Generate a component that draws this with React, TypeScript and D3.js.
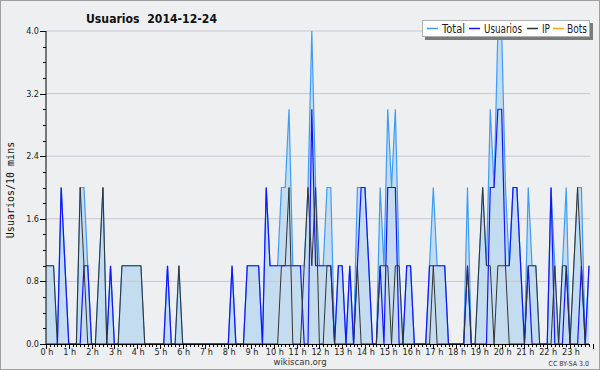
import React from "react";
import * as d3 from "d3";

// 10-minute slots, 6 per hour, 24 hours
const hourLabels = ["0 h","1 h","2 h","3 h","4 h","5 h","6 h","7 h","8 h","9 h","10 h","11 h","12 h","13 h","14 h","15 h","16 h","17 h","18 h","19 h","20 h","21 h","22 h","23 h"];
const yTicks = [0, 0.8, 1.6, 2.4, 3.2, 4.0];

const total = [
  1,1,1,0,2,1, 0,0,0,2,2,1, 0,0,1,2,0,1, 0,0,1,1,1,1, 1,1,0,0,0,0, 0,0,1,0,0,1,
  0,0,0,0,0,0, 0,0,0,0,0,0, 0,1,0,0,0,1, 1,1,1,0,2,1, 1,1,2,2,3,1, 1,1,1,2,4,2,
  1,1,2,2,0,1, 1,0,1,0,2,2, 2,1,0,0,2,1, 3,2,3,1,0,1, 1,0,0,0,0,1, 2,1,1,1,0,0,
  0,0,0,2,0,0, 1,2,1,3,2,4, 4,2,1,2,2,1, 0,2,1,1,0,0, 0,2,1,0,1,2, 0,1,2,2,0,1,
];
const usuarios = [
  0,0,0,0,2,1, 0,0,0,0,1,1, 0,0,0,0,0,1, 0,0,0,0,0,0, 0,0,0,0,0,0, 0,0,1,0,0,0,
  0,0,0,0,0,0, 0,0,0,0,0,0, 0,1,0,0,0,1, 1,1,1,0,2,1, 1,1,1,1,1,1, 1,1,0,0,3,1,
  1,1,1,1,0,1, 1,0,1,0,1,2, 2,1,0,0,1,0, 2,2,2,0,0,1, 1,0,0,0,0,1, 1,1,1,1,0,0,
  0,0,0,1,0,0, 0,0,0,2,2,3, 3,1,1,2,2,1, 0,1,0,0,0,0, 0,2,0,0,0,1, 0,0,0,1,0,1,
];
const ip = [
  1,1,1,0,0,0, 0,0,0,2,1,0, 0,0,1,2,0,0, 0,0,1,1,1,1, 1,1,0,0,0,0, 0,0,0,0,0,1,
  0,0,0,0,0,0, 0,0,0,0,0,0, 0,0,0,0,0,0, 0,0,0,0,0,0, 0,0,1,1,2,0, 0,0,1,2,1,2,
  0,0,1,1,0,0, 0,0,0,0,1,0, 0,0,0,0,1,1, 1,0,1,1,0,0, 0,0,0,0,0,0, 1,0,0,0,0,0,
  0,0,0,1,0,0, 1,2,1,1,0,1, 1,1,0,0,0,0, 0,1,1,1,0,0, 0,0,1,0,1,1, 0,1,2,1,0,0,
];
const bots = [
  0,0,0,0,0,0, 0,0,0,0,0,0, 0,0,0,0,0,0, 0,0,0,0,0,0, 0,0,0,0,0,0, 0,0,0,0,0,0,
  0,0,0,0,0,0, 0,0,0,0,0,0, 0,0,0,0,0,0, 0,0,0,0,0,0, 0,0,0,0,0,0, 0,0,0,0,0,0,
  0,0,0,0,0,0, 0,0,0,0,0,0, 0,0,0,0,0,0, 0,0,0,0,0,0, 0,0,0,0,0,0, 0,0,0,0,0,0,
  0,0,0,0,0,0, 0,0,0,0,0,0, 0,0,0,0,0,0, 0,0,0,0,0,0, 0,0,0,0,0,0, 0,0,0,0,0,0,
];

const W = 600, H = 370;
const L = 46, R = 589, T = 31, B = 344;
const AX_R = 590;

const C_TOTAL = "#3d9cf5";
const C_FILL = "#c4dcf0";
const C_USU = "#1414ff";
const C_IP = "#333333";
const C_BOTS = "#ffa31a";
const FONT = "'DejaVu Sans Condensed', 'DejaVu Sans', sans-serif";

export default function App() {
  const n = total.length;
  const x = d3.scaleLinear().domain([0, n - 1]).range([L, R]);
  const y = d3.scaleLinear().domain([0, 4]).range([B, T]);
  const line = d3.line<number>().x((_, i) => x(i)).y((d) => y(d));
  const area = d3.area<number>().x((_, i) => x(i)).y0(B).y1((d) => y(d));
  const minorY = d3.range(0, 4.0001, 0.2);
  const slots = d3.range(0, n + 1);

  const legend = [
    { label: "Total", color: C_TOTAL, lx: 427, tx: 442, w: 23 },
    { label: "Usuarios", color: C_USU, lx: 469, tx: 484, w: 38 },
    { label: "IP", color: C_IP, lx: 527, tx: 542, w: 8 },
    { label: "Bots", color: C_BOTS, lx: 553, tx: 567, w: 20 },
  ];

  return (
    <svg width={W} height={H} style={{ position: "fixed", left: 0, top: 0 }}>
      <rect x={0.5} y={0.5} width={W - 1} height={H - 1} fill="#eeeff1" stroke="#a0a0a0" />
      <text x={86} y={23} fontFamily={FONT} fontWeight="bold" fontSize={13} fill="#111"
        textLength={131} lengthAdjust="spacingAndGlyphs" style={{ whiteSpace: "pre" }}>
        {"Usuarios  2014-12-24"}
      </text>

      {/* area */}
      <path d={area(total) || ""} fill={C_FILL} />
      {/* grid */}
      {yTicks.filter((t) => t > 0).map((t) => (
        <line key={t} x1={L} x2={AX_R} y1={y(t)} y2={y(t)} stroke="#c8c8cc" strokeWidth={1} />
      ))}
      <path d={line(bots) || ""} fill="none" stroke={C_BOTS} strokeWidth={1} />
      <path d={line(total) || ""} fill="none" stroke={C_TOTAL} strokeWidth={1.2} />
      <path d={line(usuarios) || ""} fill="none" stroke={C_USU} strokeWidth={1.2} />
      <path d={line(ip) || ""} fill="none" stroke={C_IP} strokeWidth={1} />

      {/* axes */}
      <line x1={L} x2={L} y1={T} y2={B + 0.5} stroke="#000" />
      <line x1={L} x2={AX_R} y1={B + 0.5} y2={B + 0.5} stroke="#000" />
      {minorY.map((t, i) => (
        <line key={"my" + i} x1={L - (i % 4 === 0 ? 6 : 3)} x2={L} y1={Math.round(y(t)) + 0.5} y2={Math.round(y(t)) + 0.5} stroke="#000" />
      ))}
      {yTicks.map((t) => (
        <text key={"yl" + t} x={39} y={y(t) + 3} textAnchor="end" fontFamily={FONT} fontSize={9} fill="#222">
          {t.toFixed(1)}
        </text>
      ))}
      {slots.map((s) => (
        <line key={"xs" + s} x1={Math.round(x(s)) + 0.5} x2={Math.round(x(s)) + 0.5} y1={B} y2={B + (s % 6 === 0 ? 5 : 3)} stroke="#000" />
      ))}
      {hourLabels.map((lab, h) => (
        <text key={lab} x={x(h * 6) + 1} y={355} textAnchor="middle" fontFamily={FONT} fontSize={9} fill="#222">
          {lab}
        </text>
      ))}
      <text x={14} y={190} transform="rotate(-90 14 190)" textAnchor="middle" fontFamily="'DejaVu Sans Mono', monospace" fontSize={10} fill="#111">
        Usuarios/10 mins
      </text>
      <text x={300} y={365} textAnchor="middle" fontFamily={FONT} fontSize={9.5} fill="#333">wikiscan.org</text>
      <text x={589} y={366} textAnchor="end" fontFamily={FONT} fontSize={7} fill="#333">CC BY-SA 3.0</text>

      {/* legend */}
      <rect x={425} y={23} width={168} height={17} fill="#7a7a7a" />
      <rect x={422.5} y={20.5} width={167} height={16} fill="#fff" stroke="#b0b0b0" />
      {legend.map((g) => (
        <g key={g.label}>
          <line x1={g.lx} x2={g.lx + 11} y1={28.5} y2={28.5} stroke={g.color} strokeWidth={1.5} />
          <text x={g.tx} y={32.5} fontFamily={FONT} fontSize={11.5} fill="#222"
            textLength={g.w} lengthAdjust="spacingAndGlyphs">{g.label}</text>
        </g>
      ))}
    </svg>
  );
}
